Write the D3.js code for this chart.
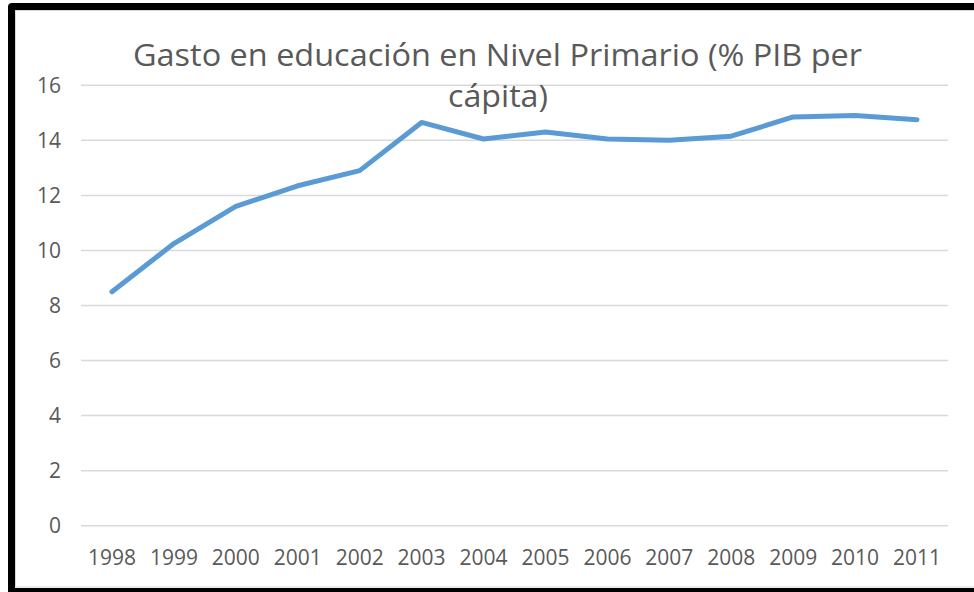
<!DOCTYPE html>
<html>
<head>
<meta charset="utf-8">
<script src="https://cdn.jsdelivr.net/npm/d3@7"></script>
<style>
  html, body { margin: 0; padding: 0; background: #ffffff; }
  svg { display: block; }
</style>
</head>
<body>
<svg id="chart" width="974" height="592"></svg>
<script>
// ---- Data ----
const years = ["1998","1999","2000","2001","2002","2003","2004","2005","2006","2007","2008","2009","2010","2011"];
const values = [8.5, 10.25, 11.6, 12.35, 12.9, 14.65, 14.05, 14.3, 14.05, 14.0, 14.15, 14.85, 14.9, 14.75];
const yTicks = [0, 2, 4, 6, 8, 10, 12, 14, 16];
const titleLines = ["Gasto en educación en Nivel Primario (% PIB per", "cápita)"];

// ---- Layout ----
const W = 974, H = 592;
const plot = { left: 81, right: 948, top: 85.3, bottom: 525.7 };
const font = "'Open Sans', 'Noto Sans', sans-serif";
const textColor = "#595959";

const svg = d3.select("#chart");

// Frame (black border, cropped at right)
svg.append("rect").attr("x", 0).attr("y", 0).attr("width", W).attr("height", H).attr("fill", "#ffffff");
svg.append("rect").attr("x", 8).attr("y", 3).attr("width", W + 20).attr("height", H + 20)
  .attr("rx", 4).attr("fill", "#000000");
svg.append("rect").attr("x", 15).attr("y", 10).attr("width", W).attr("height", 578).attr("fill", "#ffffff");
svg.append("rect").attr("x", 15.5).attr("y", 10.5).attr("width", W).attr("height", 576.5)
  .attr("fill", "none").attr("stroke", "#d9d9d9").attr("stroke-width", 1);

// Scales
const x = d3.scaleBand().domain(years).range([plot.left, plot.right]).padding(0);
const y = d3.scaleLinear().domain([0, 16]).range([plot.bottom, plot.top]);

// Gridlines
svg.append("g").selectAll("line").data(yTicks).join("line")
  .attr("x1", plot.left).attr("x2", plot.right)
  .attr("y1", d => y(d)).attr("y2", d => y(d))
  .attr("stroke", "#d9d9d9").attr("stroke-width", 1.5);

// Y axis labels
const yAxis = d3.axisLeft(y).tickValues(yTicks).tickSize(0).tickPadding(0);
const gy = svg.append("g").attr("transform", `translate(${plot.left - 20},0)`).call(yAxis);
gy.select(".domain").remove();
gy.selectAll("text").attr("font-family", font).attr("font-size", 21).attr("fill", textColor)
  .attr("dy", "0.34em");

// X axis labels
const xAxis = d3.axisBottom(x).tickSize(0).tickPadding(0);
const gx = svg.append("g").attr("transform", `translate(0,${plot.bottom})`).call(xAxis);
gx.select(".domain").remove();
gx.selectAll("text").attr("font-family", font).attr("font-size", 21).attr("fill", textColor)
  .attr("dy", null).attr("y", 39.5);

// Line
const line = d3.line()
  .x((d, i) => x(years[i]) + x.bandwidth() / 2)
  .y(d => y(d));
svg.append("path").datum(values)
  .attr("d", line)
  .attr("fill", "none")
  .attr("stroke", "#5b9bd5")
  .attr("stroke-width", 5)
  .attr("stroke-linejoin", "round")
  .attr("stroke-linecap", "round");

// Title
const t1 = svg.append("text").attr("x", 497.5).attr("y", 66)
  .attr("text-anchor", "middle").attr("font-family", font).attr("font-size", 31)
  .attr("fill", textColor).text(titleLines[0]);
t1.attr("textLength", 729).attr("lengthAdjust", "spacingAndGlyphs");
const t2 = svg.append("text").attr("x", 498).attr("y", 107)
  .attr("text-anchor", "middle").attr("font-family", font).attr("font-size", 31)
  .attr("fill", textColor).text(titleLines[1]);
t2.attr("textLength", 100).attr("lengthAdjust", "spacingAndGlyphs");
</script>
</body>
</html>
